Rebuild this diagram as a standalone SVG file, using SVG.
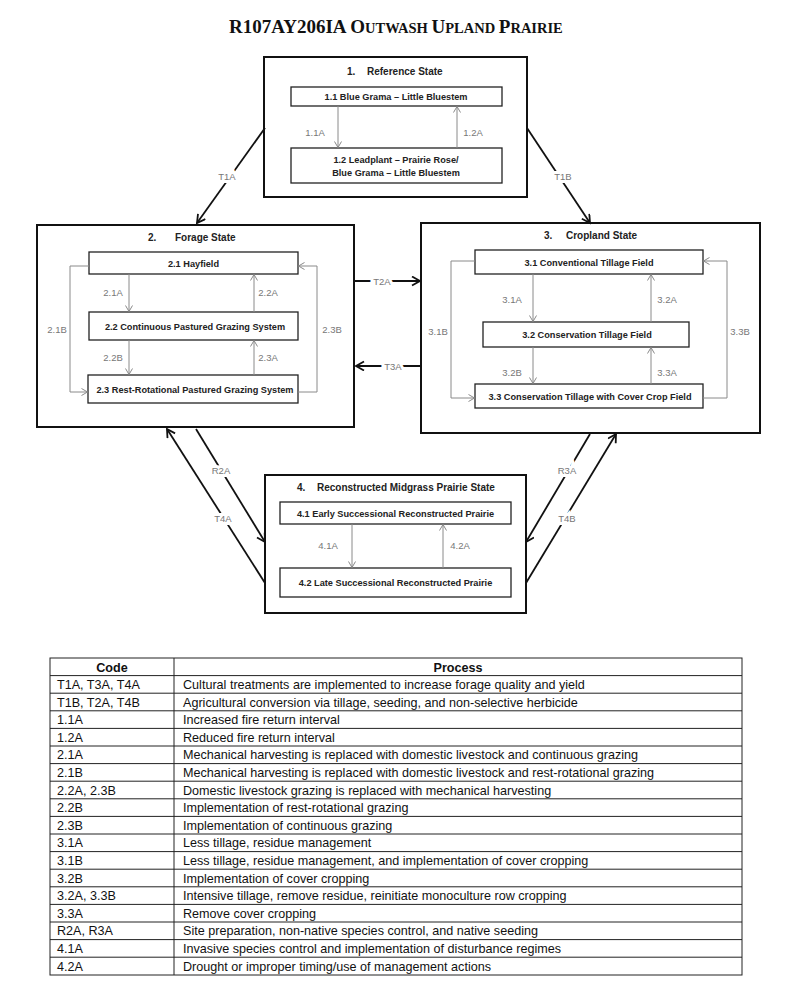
<svg xmlns="http://www.w3.org/2000/svg" width="800" height="997" viewBox="0 0 800 997">
<style>
.bg{fill:#fff}
.state{fill:#fff;stroke:#111;stroke-width:2}
.box{fill:#fff;stroke:#222;stroke-width:1.3}
.st{font-family:"Liberation Sans",Arial,sans-serif;font-weight:bold;font-size:10px;fill:#222}
.bl{font-family:"Liberation Sans",Arial,sans-serif;font-weight:bold;font-size:9.2px;fill:#222;text-anchor:middle}
.in{stroke:#8a8a8a;stroke-width:1;fill:none}
.il{font-family:"Liberation Sans",Arial,sans-serif;font-size:9.5px;fill:#777;text-anchor:middle}
.tr{stroke:#111;stroke-width:1.8;fill:none}
.tl{font-family:"Liberation Sans",Arial,sans-serif;font-size:9.5px;fill:#777;text-anchor:middle;stroke:#fff;stroke-width:6;paint-order:stroke}
.title{font-family:"Liberation Serif","Times New Roman",serif;font-weight:bold;fill:#111}
.tb{stroke:#222;stroke-width:1;fill:none}
.tt{font-family:"Liberation Sans",Arial,sans-serif;font-size:12.6px;fill:#111}
.th{font-family:"Liberation Sans",Arial,sans-serif;font-size:12.6px;font-weight:bold;fill:#111;text-anchor:middle}
</style>
<defs>
<marker id="ag" markerWidth="10" markerHeight="10" refX="7" refY="4" orient="auto" markerUnits="userSpaceOnUse">
<path d="M1,0.5 L7,4 L1,7.5" fill="none" stroke="#8a8a8a" stroke-width="1"/>
</marker>
<marker id="ak" markerWidth="12" markerHeight="12" refX="9" refY="5" orient="auto" markerUnits="userSpaceOnUse">
<path d="M1,0.5 L9,5 L1,9.5" fill="none" stroke="#111" stroke-width="1.8"/>
</marker>
</defs>
<rect class="bg" x="0" y="0" width="800" height="997"/>

<text class="title" x="229" y="33"><tspan font-size="19">R107AY206IA O</tspan><tspan font-size="14.5">UTWASH </tspan><tspan font-size="19">U</tspan><tspan font-size="14.5">PLAND </tspan><tspan font-size="19">P</tspan><tspan font-size="14.5">RAIRIE</tspan></text>

<g id="state1">
<rect class="state" x="264" y="57" width="263" height="140"/>
<text class="st" x="347" y="74.5">1.</text>
<text class="st" x="367" y="74.5">Reference State</text>
<g id="s1-1"><rect class="box" x="291" y="87" width="211" height="19"/><text class="bl" x="396" y="100">1.1 Blue Grama – Little Bluestem</text></g>
<g id="s1-2"><rect class="box" x="291" y="148" width="211" height="35"/><text class="bl" x="396" y="162.5">1.2 Leadplant – Prairie Rose/</text><text class="bl" x="396" y="176">Blue Grama – Little Bluestem</text></g>
</g>

<g id="state2">
<rect class="state" x="37" y="225" width="317" height="202"/>
<text class="st" x="148" y="240.5">2.</text>
<text class="st" x="175" y="240.5">Forage State</text>
<g id="s2-1"><rect class="box" x="89" y="252" width="209" height="22"/><text class="bl" x="193.5" y="266.5">2.1 Hayfield</text></g>
<g id="s2-2"><rect class="box" x="89" y="312" width="209" height="28"/><text class="bl" x="195" y="329.5">2.2 Continuous Pastured Grazing System</text></g>
<g id="s2-3"><rect class="box" x="88" y="375" width="210" height="28"/><text class="bl" x="195" y="392.5">2.3 Rest-Rotational Pastured Grazing System</text></g>
</g>

<g id="state3">
<rect class="state" x="421" y="223" width="339" height="210"/>
<text class="st" x="544" y="238.5">3.</text>
<text class="st" x="566" y="238.5">Cropland State</text>
<g id="s3-1"><rect class="box" x="475" y="250" width="228" height="24"/><text class="bl" x="589" y="265.5">3.1 Conventional Tillage Field</text></g>
<g id="s3-2"><rect class="box" x="483" y="322" width="206" height="25"/><text class="bl" x="587" y="338">3.2 Conservation Tillage Field</text></g>
<g id="s3-3"><rect class="box" x="475" y="384" width="228" height="24"/><text class="bl" x="590" y="399.5">3.3 Conservation Tillage with Cover Crop Field</text></g>
</g>

<g id="state4">
<rect class="state" x="265" y="475" width="261" height="138"/>
<text class="st" x="297" y="490.5">4.</text>
<text class="st" x="317" y="490.5">Reconstructed Midgrass  Prairie State</text>
<g id="s4-1"><rect class="box" x="280" y="502" width="231" height="22"/><text class="bl" x="395.5" y="516.5">4.1 Early Successional Reconstructed Prairie</text></g>
<g id="s4-2"><rect class="box" x="280" y="568" width="231" height="29"/><text class="bl" x="395.5" y="585.5">4.2 Late Successional Reconstructed Prairie</text></g>
</g>

<g id="connectors">
<line class="in" x1="338" y1="106" x2="338" y2="147.5" marker-end="url(#ag)"/>
<line class="in" x1="457" y1="148" x2="457" y2="106.5" marker-end="url(#ag)"/>
<text class="il" x="315" y="136">1.1A</text>
<text class="il" x="473" y="136">1.2A</text>

<line class="in" x1="129" y1="274" x2="129" y2="311.5" marker-end="url(#ag)"/>
<line class="in" x1="254" y1="312" x2="254" y2="274.5" marker-end="url(#ag)"/>
<line class="in" x1="129" y1="340" x2="129" y2="374.5" marker-end="url(#ag)"/>
<line class="in" x1="254" y1="375" x2="254" y2="340.5" marker-end="url(#ag)"/>
<path class="in" d="M89,266 H70 V392 H87.5" marker-end="url(#ag)"/>
<path class="in" d="M298,392 H317 V266 H298.5" marker-end="url(#ag)"/>
<text class="il" x="113" y="296">2.1A</text>
<text class="il" x="268" y="296">2.2A</text>
<text class="il" x="113" y="361">2.2B</text>
<text class="il" x="268" y="361">2.3A</text>
<text class="il" x="57" y="333">2.1B</text>
<text class="il" x="332" y="333">2.3B</text>

<line class="in" x1="533" y1="274" x2="533" y2="321.5" marker-end="url(#ag)"/>
<line class="in" x1="651" y1="322" x2="651" y2="274.5" marker-end="url(#ag)"/>
<line class="in" x1="533" y1="347" x2="533" y2="383.5" marker-end="url(#ag)"/>
<line class="in" x1="651" y1="384" x2="651" y2="347.5" marker-end="url(#ag)"/>
<path class="in" d="M475,261 H451 V398 H474.5" marker-end="url(#ag)"/>
<path class="in" d="M703,398 H727 V261 H703.5" marker-end="url(#ag)"/>
<text class="il" x="512" y="303">3.1A</text>
<text class="il" x="667" y="303">3.2A</text>
<text class="il" x="512" y="376">3.2B</text>
<text class="il" x="667" y="376">3.3A</text>
<text class="il" x="438" y="335">3.1B</text>
<text class="il" x="740" y="335">3.3B</text>

<line class="in" x1="352" y1="524" x2="352" y2="567.5" marker-end="url(#ag)"/>
<line class="in" x1="443" y1="568" x2="443" y2="524.5" marker-end="url(#ag)"/>
<text class="il" x="328" y="549">4.1A</text>
<text class="il" x="460" y="549">4.2A</text>

<line class="tr" x1="265" y1="128" x2="197" y2="223" marker-end="url(#ak)"/>
<line class="tr" x1="527" y1="128" x2="590" y2="223" marker-end="url(#ak)"/>
<line class="tr" x1="355" y1="281" x2="420" y2="281" marker-end="url(#ak)"/>
<line class="tr" x1="421" y1="366" x2="356" y2="366" marker-end="url(#ak)"/>
<line class="tr" x1="196" y1="429" x2="265" y2="542" marker-end="url(#ak)"/>
<line class="tr" x1="265" y1="583" x2="167" y2="429" marker-end="url(#ak)"/>
<line class="tr" x1="590" y1="434" x2="526" y2="542" marker-end="url(#ak)"/>
<line class="tr" x1="526" y1="583" x2="616" y2="434" marker-end="url(#ak)"/>
<text class="tl" x="227" y="180">T1A</text>
<text class="tl" x="563" y="180">T1B</text>
<text class="tl" x="382" y="284.5">T2A</text>
<text class="tl" x="393" y="369.5">T3A</text>
<text class="tl" x="221" y="474">R2A</text>
<text class="tl" x="223" y="522">T4A</text>
<text class="tl" x="567" y="474">R3A</text>
<text class="tl" x="567" y="522">T4B</text>
</g>

<g id="table">
<rect class="tb" x="50" y="658" width="692" height="317"/>
<line class="tb" x1="174" y1="658" x2="174" y2="975"/>
<path class="tb" d="M50,675.6H742M50,693.2H742M50,710.8H742M50,728.4H742M50,746H742M50,763.6H742M50,781.2H742M50,798.8H742M50,816.4H742M50,834H742M50,851.6H742M50,869.2H742M50,886.8H742M50,904.4H742M50,922H742M50,939.6H742M50,957.2H742"/>
<text class="th" x="112" y="671.5">Code</text>
<text class="th" x="458" y="671.5">Process</text>
<text class="tt" x="57" y="689">T1A, T3A, T4A</text><text class="tt" x="183" y="689">Cultural treatments are implemented to increase forage quality and yield</text>
<text class="tt" x="57" y="706.6">T1B, T2A, T4B</text><text class="tt" x="183" y="706.6">Agricultural conversion via tillage, seeding, and non-selective herbicide</text>
<text class="tt" x="57" y="724.2">1.1A</text><text class="tt" x="183" y="724.2">Increased fire return interval</text>
<text class="tt" x="57" y="741.8">1.2A</text><text class="tt" x="183" y="741.8">Reduced fire return interval</text>
<text class="tt" x="57" y="759.4">2.1A</text><text class="tt" x="183" y="759.4">Mechanical harvesting is replaced with domestic livestock and continuous grazing</text>
<text class="tt" x="57" y="777">2.1B</text><text class="tt" x="183" y="777">Mechanical harvesting is replaced with domestic livestock and rest-rotational grazing</text>
<text class="tt" x="57" y="794.6">2.2A, 2.3B</text><text class="tt" x="183" y="794.6">Domestic livestock grazing is replaced with mechanical harvesting</text>
<text class="tt" x="57" y="812.2">2.2B</text><text class="tt" x="183" y="812.2">Implementation of rest-rotational grazing</text>
<text class="tt" x="57" y="829.8">2.3B</text><text class="tt" x="183" y="829.8">Implementation of continuous grazing</text>
<text class="tt" x="57" y="847.4">3.1A</text><text class="tt" x="183" y="847.4">Less tillage, residue management</text>
<text class="tt" x="57" y="865">3.1B</text><text class="tt" x="183" y="865">Less tillage, residue management, and implementation of cover cropping</text>
<text class="tt" x="57" y="882.6">3.2B</text><text class="tt" x="183" y="882.6">Implementation of cover cropping</text>
<text class="tt" x="57" y="900.2">3.2A, 3.3B</text><text class="tt" x="183" y="900.2">Intensive tillage, remove residue, reinitiate monoculture row cropping</text>
<text class="tt" x="57" y="917.8">3.3A</text><text class="tt" x="183" y="917.8">Remove cover cropping</text>
<text class="tt" x="57" y="935.4">R2A, R3A</text><text class="tt" x="183" y="935.4">Site preparation, non-native species control, and native seeding</text>
<text class="tt" x="57" y="953">4.1A</text><text class="tt" x="183" y="953">Invasive species control and implementation of disturbance regimes</text>
<text class="tt" x="57" y="970.6">4.2A</text><text class="tt" x="183" y="970.6">Drought or improper timing/use of management actions</text>
</g>
</svg>
